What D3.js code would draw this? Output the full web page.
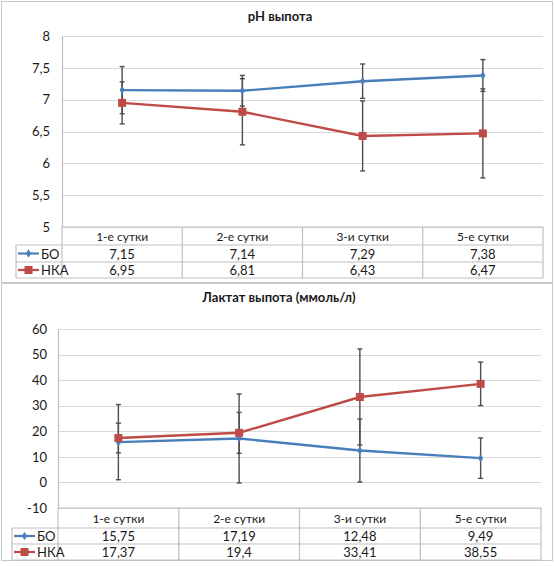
<!DOCTYPE html>
<html>
<head>
<meta charset="utf-8">
<script src="https://cdn.jsdelivr.net/npm/d3@7"></script>
<style>
body { margin: 0; background: #fff; }
text { font-family: Lato, "Open Sans", sans-serif; fill: #1a1a1a; }
</style>
</head>
<body>
<div id="chart"></div>
<script>
var svgWidth = 554;
var svgHeight = 566;

var categories = ["1-е сутки", "2-е сутки", "3-и сутки", "5-е сутки"];
var seriesNames = ["БО", "НКА"];

// pH
var phBO = [7.15, 7.14, 7.29, 7.38];
var phNKA = [6.95, 6.81, 6.43, 6.47];
var phBOErr = [0.37, 0.24, 0.27, 0.25];
var phNKAErr = [0.33, 0.52, 0.55, 0.70];
var phTicks = [5, 5.5, 6, 6.5, 7, 7.5, 8];

// lactate
var lacBO = [15.75, 17.19, 12.48, 9.49];
var lacNKA = [17.37, 19.4, 33.41, 38.55];
var lacBOErr = [14.7, 17.4, 12.3, 7.9];
var lacNKAErr = [5.8, 8.0, 18.8, 8.5];
var lacTicks = [-10, 0, 10, 20, 30, 40, 50, 60];

var colors = ["#4A7EBB", "#BE4B48"];
var gridColor = "#d9d9d9";
var borderColor = "#bfbfbf";

var svg = d3.select("#chart")
    .append("svg")
    .attr("width", svgWidth)
    .attr("height", svgHeight);

function fmt(v) {
    return String(v).replace(".", ",");
}

function drawPanel(opt) {
    var g = svg.append("g");

    // panel border
    g.append("rect")
        .attr("x", opt.box[0] + 0.5)
        .attr("y", opt.box[1] + 0.5)
        .attr("width", opt.box[2])
        .attr("height", opt.box[3])
        .attr("fill", "white")
        .attr("stroke", "#c8c8c8");

    g.append("text")
        .attr("x", opt.titleX)
        .attr("y", opt.titleY)
        .attr("text-anchor", "middle")
        .style("font-size", "13px")
        .style("font-weight", "bold")
        .text(opt.title);

    var xScale = d3.scaleBand()
        .domain(categories)
        .range([opt.left, opt.right]);

    var yScale = d3.scaleLinear()
        .domain(opt.domain)
        .range([opt.bottom, opt.top]);

    // gridlines
    g.append("g").selectAll("line")
        .data(opt.ticks)
        .enter()
        .append("line")
        .attr("x1", opt.left)
        .attr("x2", opt.right)
        .attr("y1", d => Math.round(yScale(d)) + 0.5)
        .attr("y2", d => Math.round(yScale(d)) + 0.5)
        .attr("stroke", gridColor)
        .attr("stroke-width", 1.2);

    // y axis
    var leftAxis = d3.axisLeft(yScale)
        .tickValues(opt.ticks)
        .tickSize(0)
        .tickPadding(opt.left - opt.labelX)
        .tickFormat(fmt);
    var yAxis = g.append("g")
        .attr("transform", `translate(${opt.left},0)`)
        .call(leftAxis);
    yAxis.select(".domain").attr("stroke", borderColor).attr("stroke-width", 1.2);
    yAxis.selectAll("text")
        .style("font-size", "13px")
        .style("font-family", "Lato, 'Open Sans', sans-serif")
        .attr("fill", "#1a1a1a");

    // data table
    var rowH = opt.rowH;
    var tTop = opt.bottom;
    var tab = g.append("g");
    tab.append("line")
        .attr("x1", opt.right).attr("x2", opt.right)
        .attr("y1", tTop).attr("y2", tTop + rowH[0] + rowH[1] + rowH[2]);
    tab.append("line")
        .attr("x1", opt.tableLeft).attr("x2", opt.tableLeft)
        .attr("y1", tTop + rowH[0]).attr("y2", tTop + rowH[0] + rowH[1] + rowH[2]);
    categories.forEach(function(c) {
        tab.append("line")
            .attr("x1", xScale(c)).attr("x2", xScale(c))
            .attr("y1", tTop).attr("y2", tTop + rowH[0] + rowH[1] + rowH[2]);
    });
    tab.append("line")
        .attr("x1", opt.left).attr("x2", opt.right)
        .attr("y1", tTop).attr("y2", tTop);
    var yy = tTop + rowH[0];
    [rowH[1], rowH[2], 0].forEach(function(h) {
        tab.append("line")
            .attr("x1", opt.tableLeft).attr("x2", opt.right)
            .attr("y1", yy).attr("y2", yy);
        yy += h;
    });
    tab.selectAll("line")
        .attr("stroke", borderColor)
        .attr("stroke-width", 1.2);

    tab.selectAll(".head")
        .data(categories)
        .enter()
        .append("text")
        .attr("x", d => xScale(d) + xScale.bandwidth() / 2)
        .attr("y", tTop + rowH[0] / 2 + 4.5)
        .attr("text-anchor", "middle")
        .style("font-size", "12px")
        .text(d => d);

    var series = [opt.s1, opt.s2];
    series.forEach(function(vals, i) {
        var rowTop = tTop + rowH[0] + (i === 0 ? 0 : rowH[1]);
        var cy = rowTop + rowH[i + 1] / 2;
        tab.selectAll(".val" + i)
            .data(vals)
            .enter()
            .append("text")
            .attr("x", (d, j) => xScale(categories[j]) + xScale.bandwidth() / 2)
            .attr("y", cy + 5)
            .attr("text-anchor", "middle")
            .style("font-size", "13px")
            .text(d => fmt(d));
        // legend key
        var kx = opt.tableLeft + 2;
        tab.append("line")
            .attr("x1", kx).attr("x2", kx + 21)
            .attr("y1", cy).attr("y2", cy)
            .attr("stroke", colors[i]).attr("stroke-width", 2.2);
        drawMarker(tab, i, kx + 10.5, cy);
        tab.append("text")
            .attr("x", kx + 23)
            .attr("y", cy + 5)
            .style("font-size", "13px")
            .text(seriesNames[i]);
    });

    // error bars
    var errs = [opt.e1, opt.e2];
    series.forEach(function(vals, i) {
        var eg = g.append("g");
        vals.forEach(function(v, j) {
            var cx = xScale(categories[j]) + xScale.bandwidth() / 2;
            var hi = yScale(v + errs[i][j]);
            var lo = yScale(v - errs[i][j]);
            eg.append("line")
                .attr("x1", cx).attr("x2", cx).attr("y1", hi).attr("y2", lo);
            eg.append("line")
                .attr("x1", cx - 2.5).attr("x2", cx + 2.5).attr("y1", hi).attr("y2", hi);
            eg.append("line")
                .attr("x1", cx - 2.5).attr("x2", cx + 2.5).attr("y1", lo).attr("y2", lo);
        });
        eg.selectAll("line")
            .attr("stroke", "#4d4d4d")
            .attr("stroke-width", 1.4);
    });

    // lines + markers
    var line = d3.line()
        .x((d, j) => xScale(categories[j]) + xScale.bandwidth() / 2)
        .y(d => yScale(d));
    series.forEach(function(vals, i) {
        g.append("path")
            .datum(vals)
            .attr("d", line)
            .attr("fill", "none")
            .attr("stroke", colors[i])
            .attr("stroke-width", 2.4);
        vals.forEach(function(v, j) {
            drawMarker(g, i, xScale(categories[j]) + xScale.bandwidth() / 2, yScale(v));
        });
    });
}

function drawMarker(sel, i, x, y) {
    if (i === 0) {
        sel.append("path")
            .attr("d", d3.symbol().type(d3.symbolDiamond).size(22))
            .attr("transform", `translate(${x},${y})`)
            .attr("fill", colors[0]);
    } else {
        sel.append("rect")
            .attr("x", x - 4).attr("y", y - 4)
            .attr("width", 8).attr("height", 8)
            .attr("fill", colors[1]);
    }
}

drawPanel({
    box: [1, 1, 551, 281],
    title: "pH выпота",
    titleX: 280, titleY: 21,
    left: 62, right: 543, top: 36, bottom: 227,
    labelX: 50, tableLeft: 16,
    rowH: [18, 17, 16],
    domain: [5, 8], ticks: phTicks,
    s1: phBO, s2: phNKA, e1: phBOErr, e2: phNKAErr
});

drawPanel({
    box: [1, 283, 551, 277],
    title: "Лактат выпота (ммоль/л)",
    titleX: 279, titleY: 302,
    left: 58, right: 541, top: 329, bottom: 508,
    labelX: 47, tableLeft: 12,
    rowH: [20, 16, 16],
    domain: [-10, 60], ticks: lacTicks,
    s1: lacBO, s2: lacNKA, e1: lacBOErr, e2: lacNKAErr
});
</script>
</body>
</html>
